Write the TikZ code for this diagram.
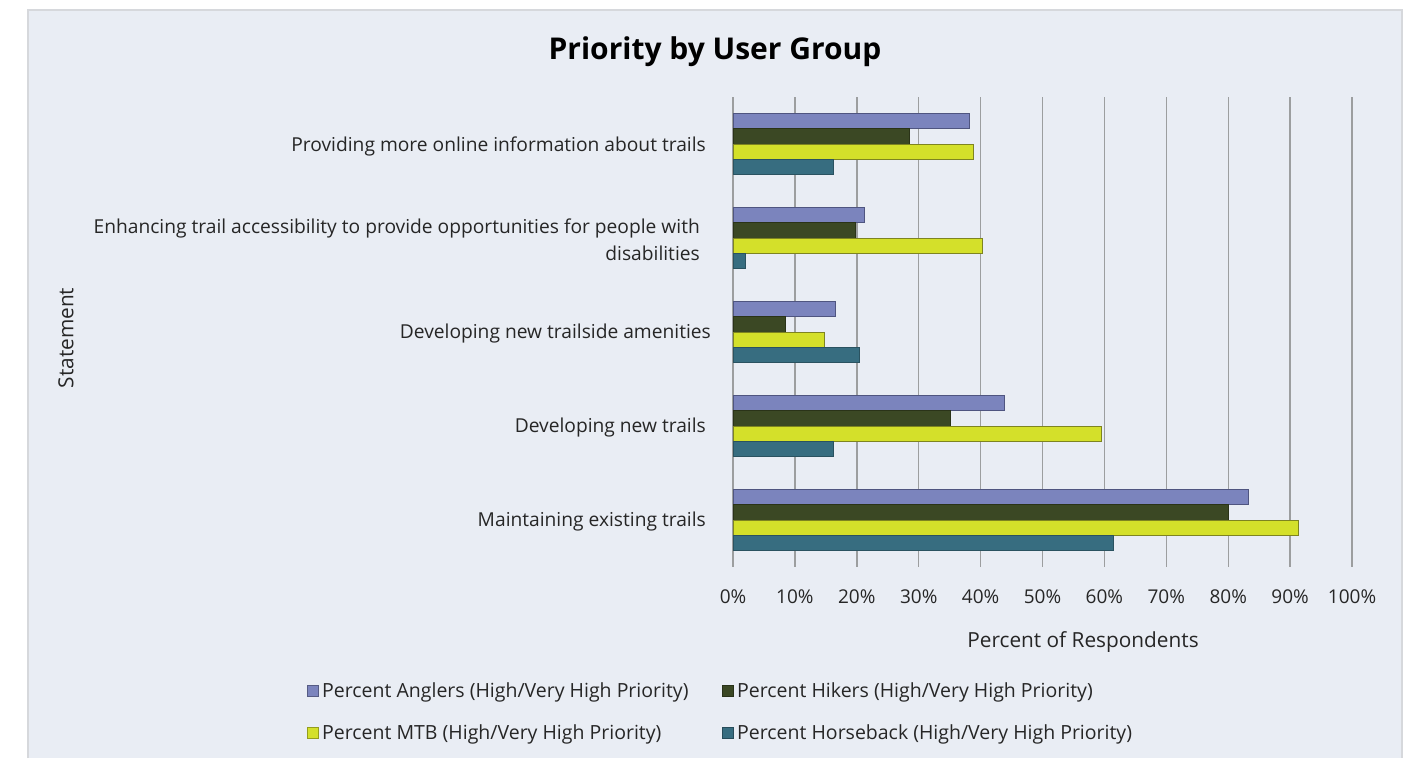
\documentclass[tikz,border=0pt]{standalone}
\usepackage{fontspec}
\setmainfont{Open Sans}
\definecolor{bgc}{HTML}{E9EDF4}
\definecolor{framec}{HTML}{D6D8DC}
\definecolor{gridc}{HTML}{9C9E9F}
\definecolor{txtc}{HTML}{262626}
\definecolor{angc}{HTML}{7B84BD}
\definecolor{angb}{HTML}{4F5580}
\definecolor{hikc}{HTML}{3B4824}
\definecolor{hikb}{HTML}{2A3318}
\definecolor{mtbc}{HTML}{D4E02A}
\definecolor{mtbb}{HTML}{7E8420}
\definecolor{horc}{HTML}{376D80}
\definecolor{horb}{HTML}{2A5260}
\begin{document}
\begin{tikzpicture}[x=1pt,y=-1pt,
  lab/.style={text=txtc,font=\fontsize{19.2}{27}\selectfont,inner sep=0pt},
  catlab/.style={lab,anchor=east,align=right},
  ticklab/.style={lab,font=\fontsize{19}{27}\selectfont},
  legtxt/.style={lab,anchor=west,font=\fontsize{19.5}{27}\selectfont},
  axtitle/.style={lab,font=\fontsize{20.8}{27}\selectfont},
  legsq/.style={draw=#1!70!black,fill=#1,line width=0.8pt},
  bar/.style={line width=0.9pt}]
\useasboundingbox (0,0) rectangle (1413,758);
\fill[white] (0,0) rectangle (1413,758);
\fill[bgc] (28,10) rectangle (1402,758);
\draw[framec,line width=1.5pt] (28,758) -- (28,10) -- (1402,10) -- (1402,758);
% title
\node[text=black,font=\bfseries\fontsize{30}{33}\selectfont,inner sep=0pt] (title) at (715,52) {Priority by User Group};
% gridlines
\foreach \i in {0,...,10}{
  \draw[gridc,line width=1.4pt] ({733+61.9*\i},97) -- ({733+61.9*\i},567);
  \pgfmathtruncatemacro\p{10*\i}
  \node[ticklab] (tick\i) at ({733+61.9*\i},597) {\p\%};
}
% bars
\foreach \g/\a/\b/\c/\d in {0/38.2/28.5/38.9/16.2,1/21.3/19.8/40.3/2.0,2/16.5/8.5/14.8/20.4,3/43.9/35.1/59.5/16.2,4/83.3/80.0/91.4/61.4}{
  \pgfmathsetmacro\yt{113.5+94*\g}
  \filldraw[bar,fill=angc,draw=angb] (733,\yt) rectangle ({733+6.19*\a},\yt+15.25);
  \filldraw[bar,fill=hikc,draw=hikb] (733,\yt+15.25) rectangle ({733+6.19*\b},\yt+30.5);
  \filldraw[bar,fill=mtbc,draw=mtbb] (733,\yt+30.5) rectangle ({733+6.19*\c},\yt+45.75);
  \filldraw[bar,fill=horc,draw=horb] (733,\yt+45.75) rectangle ({733+6.19*\d},\yt+61);
}
% category labels
\node[catlab] (c1) at (706,146) {Providing more online information about trails};
\node[catlab] (c2) at (700,240) {Enhancing trail accessibility to provide opportunities for people with\\disabilities};
\node[catlab] (c3) at (711,334) {Developing new trailside amenities};
\node[catlab] (c4) at (706,428) {Developing new trails};
\node[catlab] (c5) at (706,522) {Maintaining existing trails};
% axis titles
\node[axtitle,rotate=90] (ytitle) at (66,338) {Statement};
\node[axtitle] (xtitle) at (1083,642) {Percent of Respondents};
% legend
\draw[legsq=angc] (307,685) rectangle (318,696);
\node[legtxt] (l1) at (322,692) {Percent Anglers (High/Very High Priority)};
\draw[legsq=hikc] (722,685) rectangle (733,696);
\node[legtxt] (l2) at (737,692) {Percent Hikers (High/Very High Priority)};
\draw[legsq=mtbc] (307,727) rectangle (318,738);
\node[legtxt] (l3) at (322,734) {Percent MTB (High/Very High Priority)};
\draw[legsq=horc] (722,727) rectangle (733,738);
\node[legtxt] (l4) at (737,734) {Percent Horseback (High/Very High Priority)};
\end{tikzpicture}
\end{document}
